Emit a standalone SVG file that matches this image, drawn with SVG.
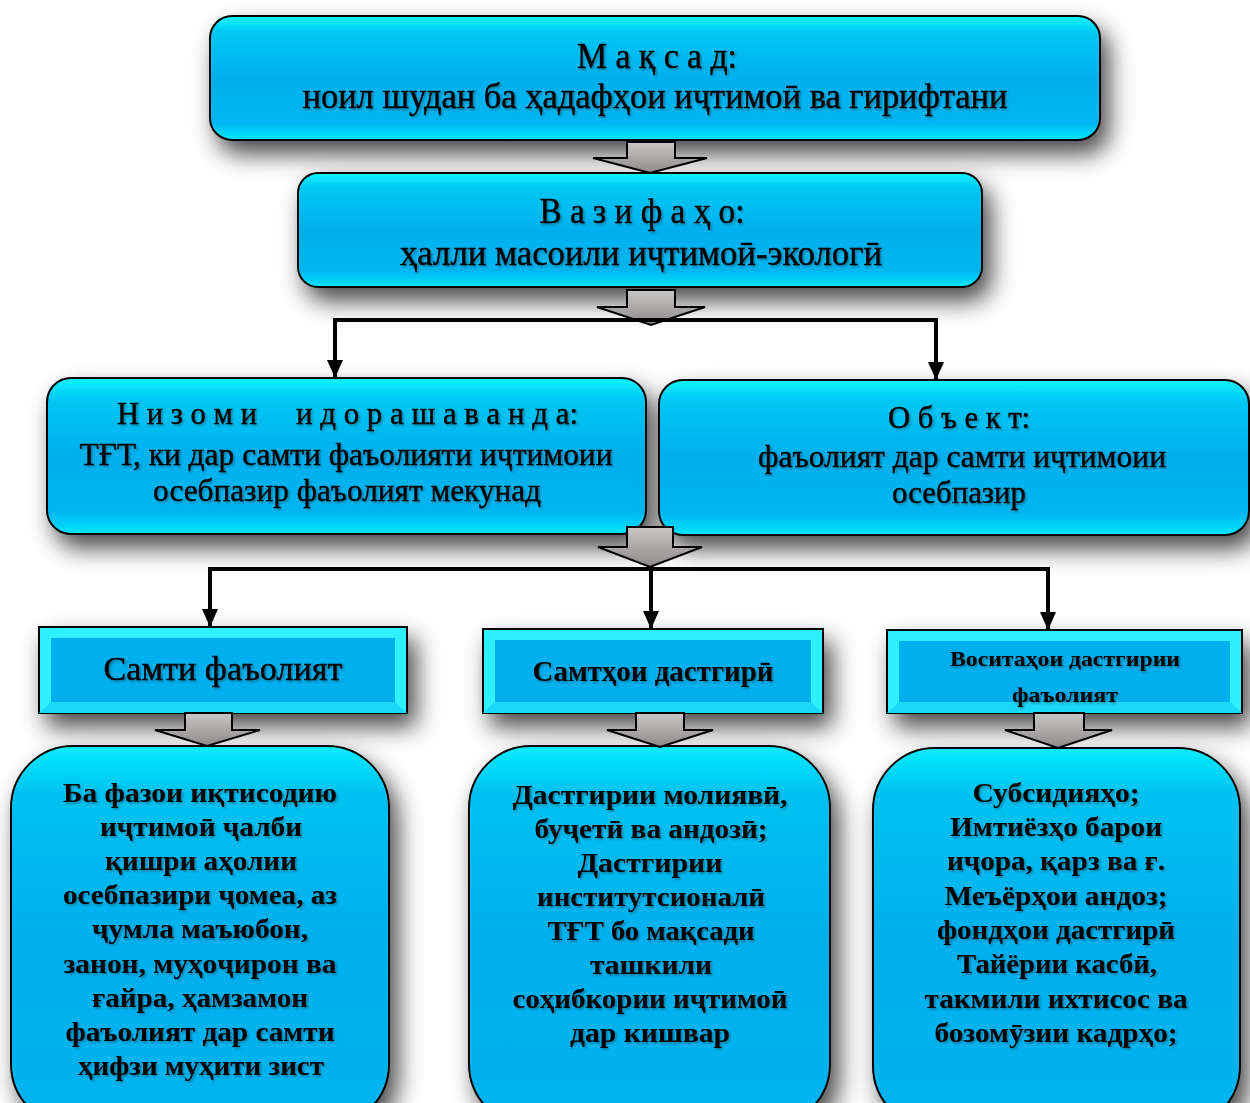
<svg xmlns="http://www.w3.org/2000/svg" width="1250" height="1103" viewBox="0 0 1250 1103">
<defs>
  <linearGradient id="gBox" x1="0" y1="0" x2="0" y2="1">
    <stop offset="0" stop-color="#10f6ff"/>
    <stop offset="0.13" stop-color="#00c8f4"/>
    <stop offset="0.5" stop-color="#00b0ee"/>
    <stop offset="0.86" stop-color="#00b6f0"/>
    <stop offset="1" stop-color="#08e6ff"/>
  </linearGradient>
  <linearGradient id="gBig" x1="0" y1="0" x2="0" y2="1">
    <stop offset="0" stop-color="#08eeff"/>
    <stop offset="0.12" stop-color="#00c2f2"/>
    <stop offset="0.5" stop-color="#00b0ee"/>
    <stop offset="1" stop-color="#00b4ef"/>
  </linearGradient>
  <linearGradient id="gArrow" x1="0" y1="0" x2="0" y2="1">
    <stop offset="0" stop-color="#c9c6c6"/>
    <stop offset="1" stop-color="#8e8a8a"/>
  </linearGradient>
  <filter id="sh" x="-15%" y="-25%" width="140%" height="170%">
    <feDropShadow dx="8" dy="13" stdDeviation="12" flood-color="#000" flood-opacity="0.72"/>
  </filter>
  <filter id="ts" x="-5%" y="-20%" width="110%" height="150%">
    <feDropShadow dx="1.5" dy="1.5" stdDeviation="1" flood-color="#000" flood-opacity="0.35"/>
  </filter>
  <marker id="ah" viewBox="0 0 18 16" refX="18" refY="8" markerWidth="18" markerHeight="16" markerUnits="userSpaceOnUse" orient="auto">
    <path d="M0,0 L18,8 L0,16 Z" fill="#000"/>
  </marker>
  <style>
    .box{fill:url(#gBox);stroke:#000;stroke-width:2;filter:url(#sh)}
    .big{fill:url(#gBig);stroke:#000;stroke-width:2;filter:url(#sh)}
    .hdr{fill:#2ef0ff;stroke:#000;stroke-width:2;filter:url(#sh)}
    .hin{fill:#00b0ee}
    .bev{fill:#1ad8f8}
    .t{font-family:"Liberation Serif","Times New Roman",serif;fill:#000;text-anchor:middle;filter:url(#ts)}
    .ts{font-family:"Liberation Serif","Times New Roman",serif;fill:#000;filter:url(#ts)}
    .r{stroke:#000;stroke-width:0.4}
    .b{font-weight:bold}
    .line{fill:none;stroke:#000;stroke-width:4;marker-end:url(#ah)}
    .blk{fill:url(#gArrow);stroke:#000;stroke-width:2;stroke-linejoin:miter}
  </style>
</defs>
<rect width="1250" height="1103" fill="#ffffff"/>

<g id="n-maqsad">
  <rect class="box" x="210" y="16" width="890" height="124" rx="22"/>
  <text class="t r" x="657" y="68" font-size="36" textLength="160" lengthAdjust="spacingAndGlyphs">М а қ с а д:</text>
  <text class="t r" x="655" y="108" font-size="36" textLength="705" lengthAdjust="spacingAndGlyphs">ноил шудан ба ҳадафҳои иҷтимоӣ ва гирифтани</text>
</g>

<g id="n-vazifaho">
  <rect class="box" x="298" y="173" width="684" height="114" rx="20"/>
  <text class="t r" x="642" y="223" font-size="36" textLength="205" lengthAdjust="spacingAndGlyphs">В а з и ф а ҳ о:</text>
  <text class="t r" x="641" y="265" font-size="36" textLength="482" lengthAdjust="spacingAndGlyphs">ҳалли масоили иҷтимоӣ-экологӣ</text>
</g>

<g id="n-nizom">
  <rect class="box" x="47" y="378" width="599" height="156" rx="24"/>
  <text class="ts r" x="117" y="424" font-size="32" textLength="140" lengthAdjust="spacingAndGlyphs">Н и з о м и</text>
  <text class="ts r" x="296" y="424" font-size="32" textLength="282" lengthAdjust="spacingAndGlyphs">и д о р а ш а в а н д а:</text>
  <text class="t r" x="346" y="465" font-size="32" textLength="533" lengthAdjust="spacingAndGlyphs">ТҒТ, ки дар самти фаъолияти иҷтимоии</text>
  <text class="t r" x="347" y="501" font-size="32" textLength="388" lengthAdjust="spacingAndGlyphs">осебпазир фаъолият мекунад</text>
</g>

<g id="n-obekt">
  <rect class="box" x="659" y="380" width="590" height="155" rx="24"/>
  <text class="t r" x="959" y="428" font-size="32" textLength="142" lengthAdjust="spacingAndGlyphs">О б ъ е к т:</text>
  <text class="t r" x="962" y="467" font-size="32" textLength="408" lengthAdjust="spacingAndGlyphs">фаъолият дар самти иҷтимоии</text>
  <text class="t r" x="959" y="503" font-size="32" textLength="134" lengthAdjust="spacingAndGlyphs">осебпазир</text>
</g>

<g id="n-samti">
  <rect class="hdr" x="39" y="627" width="368" height="86"/>
  <polygon class="bev" points="39,713 51,702 395,702 407,713"/>
  <rect class="hin" x="51" y="638" width="344" height="64"/>
  <text class="t r" x="223" y="680" font-size="34" textLength="239" lengthAdjust="spacingAndGlyphs">Самти фаъолият</text>
</g>

<g id="n-samtho">
  <rect class="hdr" x="483" y="629" width="340" height="84"/>
  <polygon class="bev" points="483,713 495,702 811,702 823,713"/>
  <rect class="hin" x="495" y="640" width="316" height="62"/>
  <text class="t b" x="653" y="681" font-size="29" textLength="241" lengthAdjust="spacingAndGlyphs">Самтҳои дастгирӣ</text>
</g>

<g id="n-vositaho">
  <rect class="hdr" x="887" y="630" width="355" height="83"/>
  <polygon class="bev" points="887,713 899,702 1230,702 1242,713"/>
  <rect class="hin" x="899" y="641" width="331" height="61"/>
  <text class="t b" x="1065" y="666" font-size="22" textLength="230" lengthAdjust="spacingAndGlyphs">Воситаҳои дастгирии</text>
  <text class="t b" x="1065" y="702" font-size="22" textLength="106" lengthAdjust="spacingAndGlyphs">фаъолият</text>
</g>

<g id="n-bottom-left">
  <rect class="big" x="11" y="746" width="378" height="380" rx="62"/>
  <g class="t b" font-size="28">
    <text x="200" y="802" textLength="274" lengthAdjust="spacingAndGlyphs">Ба фазои иқтисодию</text>
    <text x="201" y="836" textLength="202" lengthAdjust="spacingAndGlyphs">иҷтимоӣ ҷалби</text>
    <text x="201" y="870" textLength="192" lengthAdjust="spacingAndGlyphs">қишри аҳолии</text>
    <text x="200" y="904" textLength="274" lengthAdjust="spacingAndGlyphs">осебпазири ҷомеа, аз</text>
    <text x="200" y="938" textLength="216" lengthAdjust="spacingAndGlyphs">ҷумла маъюбон,</text>
    <text x="200" y="973" textLength="273" lengthAdjust="spacingAndGlyphs">занон, муҳоҷирон ва</text>
    <text x="200" y="1007" textLength="216" lengthAdjust="spacingAndGlyphs">ғайра, ҳамзамон</text>
    <text x="200" y="1041" textLength="269" lengthAdjust="spacingAndGlyphs">фаъолият дар самти</text>
    <text x="201" y="1075" textLength="246" lengthAdjust="spacingAndGlyphs">ҳифзи муҳити зист</text>
  </g>
</g>

<g id="n-bottom-mid">
  <rect class="big" x="469" y="746" width="361" height="380" rx="62"/>
  <g class="t b" font-size="28">
    <text x="650" y="804" textLength="275" lengthAdjust="spacingAndGlyphs">Дастгирии молиявӣ,</text>
    <text x="651" y="838" textLength="233" lengthAdjust="spacingAndGlyphs">буҷетӣ ва андозӣ;</text>
    <text x="650" y="872" textLength="145" lengthAdjust="spacingAndGlyphs">Дастгирии</text>
    <text x="651" y="906" textLength="228" lengthAdjust="spacingAndGlyphs">институтсионалӣ</text>
    <text x="651" y="940" textLength="207" lengthAdjust="spacingAndGlyphs">ТҒТ бо мақсади</text>
    <text x="651" y="974" textLength="122" lengthAdjust="spacingAndGlyphs">ташкили</text>
    <text x="650" y="1008" textLength="275" lengthAdjust="spacingAndGlyphs">соҳибкории иҷтимоӣ</text>
    <text x="650" y="1042" textLength="160" lengthAdjust="spacingAndGlyphs">дар кишвар</text>
  </g>
</g>

<g id="n-bottom-right">
  <rect class="big" x="873" y="748" width="367" height="380" rx="62"/>
  <g class="t b" font-size="28">
    <text x="1056" y="802" textLength="167" lengthAdjust="spacingAndGlyphs">Субсидияҳо;</text>
    <text x="1056" y="836" textLength="212" lengthAdjust="spacingAndGlyphs">Имтиёзҳо барои</text>
    <text x="1056" y="870" textLength="218" lengthAdjust="spacingAndGlyphs">иҷора, қарз ва ғ.</text>
    <text x="1056" y="905" textLength="223" lengthAdjust="spacingAndGlyphs">Меъёрҳои андоз;</text>
    <text x="1056" y="939" textLength="238" lengthAdjust="spacingAndGlyphs">фондҳои дастгирӣ</text>
    <text x="1057" y="973" textLength="200" lengthAdjust="spacingAndGlyphs">Тайёрии касбӣ,</text>
    <text x="1056" y="1008" textLength="263" lengthAdjust="spacingAndGlyphs">такмили ихтисос ва</text>
    <text x="1056" y="1042" textLength="243" lengthAdjust="spacingAndGlyphs">бозомӯзии кадрҳо;</text>
  </g>
</g>

<g id="connectors">
  <path class="blk" d="M627,142 H675 V158 H707 L650,173 L593,158 H627 Z"/>
  <path class="blk" d="M627,290 H675 V307 H705 L651,325 L597,307 H627 Z"/>
  <path class="blk" d="M627,527 H673 V547 H702 L650,567 L598,547 H627 Z"/>
  <path class="blk" d="M185,713 H232 V730 H260 L207,746 L155,730 H185 Z"/>
  <path class="blk" d="M636,713 H684 V730 H713 L660,747 L607,730 H636 Z"/>
  <path class="blk" d="M1034,713 H1084 V730 H1112 L1058,748 L1005,730 H1034 Z"/>
  <path class="line" d="M640,320 H335 V378"/>
  <path class="line" d="M640,320 H936 V380"/>
  <path class="line" d="M651,569 H210 V627"/>
  <path class="line" d="M651,569 V629"/>
  <path class="line" d="M651,569 H1048 V630"/>
</g>
</svg>
